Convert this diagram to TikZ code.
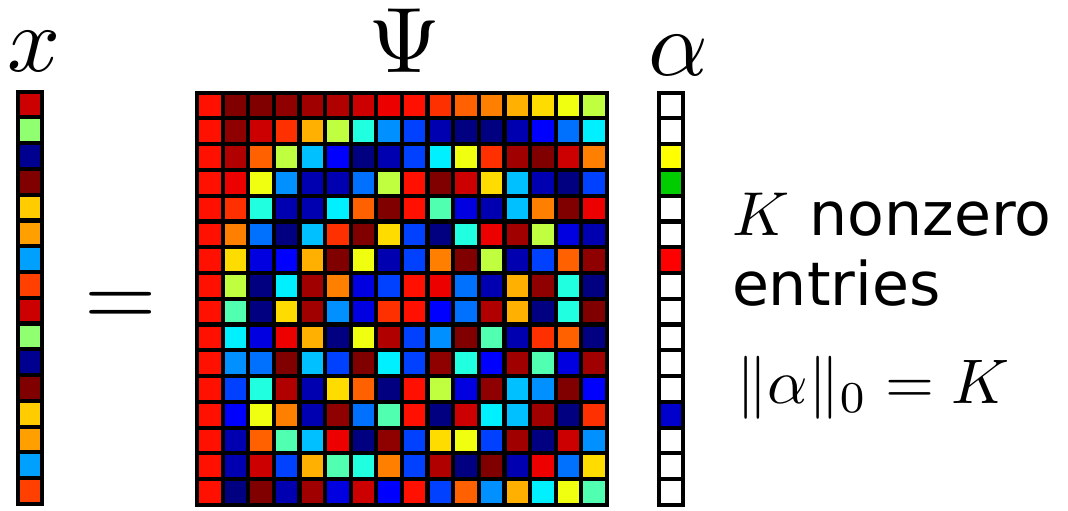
\documentclass[tikz,border=0pt]{standalone}
\usepackage{fontspec}
\newfontfamily\dvs[Scale=0.97]{DejaVu Sans}
\definecolor{cD0}{RGB}{128,0,0}
\definecolor{cD1}{RGB}{143,0,0}
\definecolor{cD2}{RGB}{160,0,0}
\definecolor{cD3}{RGB}{176,0,0}
\definecolor{cD4}{RGB}{204,0,0}
\definecolor{cD5}{RGB}{236,0,0}
\definecolor{cR}{RGB}{255,16,0}
\definecolor{cOR}{RGB}{255,48,0}
\definecolor{cO1}{RGB}{255,96,0}
\definecolor{cO}{RGB}{255,128,0}
\definecolor{cO2}{RGB}{255,176,0}
\definecolor{cY1}{RGB}{255,220,0}
\definecolor{cY}{RGB}{240,255,16}
\definecolor{cYG}{RGB}{192,255,64}
\definecolor{cG}{RGB}{80,255,176}
\definecolor{cC1}{RGB}{32,255,224}
\definecolor{cC}{RGB}{0,240,255}
\definecolor{cLB}{RGB}{0,192,255}
\definecolor{cLB2}{RGB}{0,144,255}
\definecolor{cB1}{RGB}{0,112,255}
\definecolor{cB2}{RGB}{0,64,255}
\definecolor{cB}{RGB}{0,0,255}
\definecolor{cDB1}{RGB}{0,0,224}
\definecolor{cDB2}{RGB}{0,0,176}
\definecolor{cDB3}{RGB}{0,0,128}
\definecolor{xa}{RGB}{204,0,0}
\definecolor{xb}{RGB}{144,255,112}
\definecolor{xc}{RGB}{0,0,144}
\definecolor{xd}{RGB}{128,0,0}
\definecolor{xe}{RGB}{255,204,0}
\definecolor{xf}{RGB}{255,160,0}
\definecolor{xg}{RGB}{0,160,255}
\definecolor{xh}{RGB}{255,64,0}
\definecolor{aW}{RGB}{255,255,255}
\definecolor{aY}{RGB}{255,255,0}
\definecolor{aG}{RGB}{0,204,0}
\definecolor{aR}{RGB}{255,0,0}
\definecolor{aB}{RGB}{0,0,204}
\begin{document}
\begin{tikzpicture}[x=1pt,y=-1pt,
  lbl/.style={inner sep=0pt, outer sep=0pt, anchor=base},
  bigmath/.style={scale=9.3},
  sidetext/.style={inner sep=0pt, outer sep=0pt, anchor=base west, scale=6.2}]
\useasboundingbox (0,0) rectangle (1068,511);
\fill[white] (0,0) rectangle (1068,511);
% matrix Psi
\fill[black] (195,90.5) rectangle (609,507);
\foreach \rowlist [count=\j from 0] in {
 {R,D0,D0,D1,D2,D3,D4,D5,R,OR,O1,O,O2,Y1,Y,YG},
 {R,D1,D4,OR,O2,YG,C1,LB2,B2,DB2,DB3,DB3,DB2,B,B1,C},
 {R,D3,O1,YG,LB,B,DB3,DB2,B2,C,Y,OR,D2,D0,D4,O},
 {R,D5,Y,LB2,DB2,DB2,B1,YG,R,D0,D4,Y1,LB,DB2,DB3,B2},
 {R,OR,C1,DB2,DB2,C,O1,D0,R,G,DB1,DB2,LB,O,D0,D5},
 {R,O,B1,DB3,LB,OR,D0,Y1,B2,DB3,C1,D5,D2,YG,DB1,DB2},
 {R,Y1,DB1,B,O2,D0,Y,DB2,B2,O,D0,YG,DB2,B2,O1,D1},
 {R,YG,DB3,C,D2,O,DB1,B2,R,D5,B1,DB2,O2,D1,C1,DB3},
 {R,G,DB3,Y1,D2,LB2,DB1,OR,R,B,B1,D3,O2,DB3,C1,D0},
 {R,C,DB1,D5,O2,DB3,Y,D3,B2,LB2,D0,G,DB2,OR,O1,DB3},
 {R,LB2,B1,D0,LB,B2,D0,C,B2,D1,C1,B,D2,G,DB1,D2},
 {R,B2,C1,D3,DB2,Y1,O1,DB3,R,YG,DB1,D1,LB,LB2,D0,B},
 {R,B,Y,O,DB2,D1,B1,G,R,DB3,D4,C,LB,D2,DB3,OR},
 {R,DB2,O1,G,LB,D5,DB3,D1,B2,Y1,Y,B2,D2,DB3,D4,LB2},
 {R,DB2,D4,B2,O2,G,C1,O,B2,D3,DB3,D0,DB2,D5,B1,Y1},
 {R,DB3,D0,DB2,D2,DB1,D4,B,R,B2,O1,LB2,O2,C,Y,G}} {
  \foreach \c [count=\i from 0] in \rowlist {
    \fill[c\c] ({199.2+\i*25.61},{94.7+\j*25.77}) rectangle ++(21.41,21.57);
  }
}
% vector x
\fill[black] (16,89.5) rectangle (43.5,506);
\foreach \c [count=\j from 0] in {xa,xb,xc,xd,xe,xf,xg,xh,xa,xb,xc,xd,xe,xf,xg,xh} {
  \fill[\c] (20,{93.7+\j*25.77}) rectangle ++(19.5,21.57);
}
% vector alpha
\fill[black] (657,90.5) rectangle (685,507);
\foreach \c [count=\j from 0] in {aW,aW,aY,aG,aW,aW,aR,aW,aW,aW,aW,aW,aB,aW,aW,aW} {
  \fill[\c] (661.2,{94.7+\j*25.77}) rectangle ++(19.6,21.57);
}
% labels
\node[lbl, bigmath] (xlabel) at (34.5,71) {$x$};
\node[lbl, bigmath] (psilabel) at (404.5,73) {$\Psi$};
\node[lbl, bigmath] (alphalabel) at (678,75) {$\alpha$};
\node[lbl, bigmath] (eqsign) at (120.5,326) {$=$};
\node[sidetext] (line1) at (732,235) {$K$ {\dvs nonzero}};
\node[sidetext] (line2) at (732,305) {\dvs entries};
\node[sidetext, scale=1.016] (line3) at (736,403) {$\|\alpha\|_0 = K$};
\end{tikzpicture}
\end{document}
